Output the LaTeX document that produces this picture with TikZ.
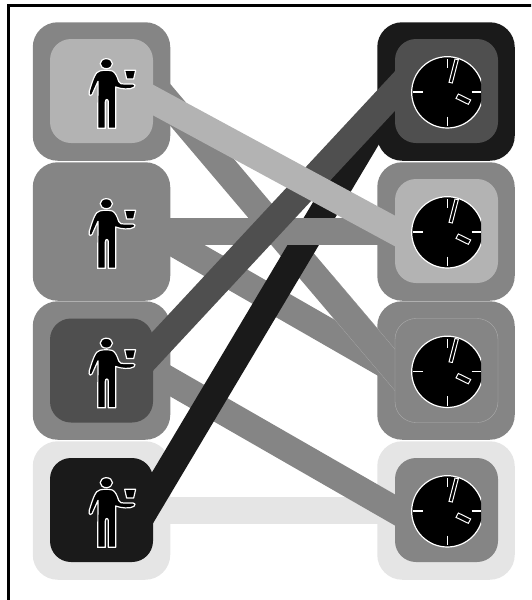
\documentclass[tikz,border=0pt]{standalone}
\definecolor{cGray}{HTML}{858585}
\definecolor{cLight}{HTML}{B3B3B3}
\definecolor{cDark}{HTML}{4F4F4F}
\definecolor{cBlack}{HTML}{1A1A1A}
\definecolor{cPale}{HTML}{E5E5E5}
\definecolor{cSeam}{HTML}{B0B0B0}
\tikzset{
  outerbox/.style={rectangle,rounded corners=25pt,minimum width=137.5pt,minimum height=138.5pt,inner sep=0pt,fill=#1},
  innerbox/.style={rectangle,rounded corners=21pt,minimum width=103pt,minimum height=104pt,inner sep=0pt,fill=#1},
  link/.style={line width=27pt,draw=#1,shorten <=-30pt,shorten >=-30pt},
  seamlink/.style={line width=.3pt,draw=cSeam,double=#1,double distance=26.4pt,shorten <=-30pt,shorten >=-30pt},
  glyph/.style={fill=black,draw=white,line width=1.2pt,line join=round},
  person/.pic={
    \begin{scope}[x=0.3333pt,y=-0.3333pt,shift={(-214.5,-243)}]
      \draw[glyph] (229,161) ellipse [x radius=18.5,y radius=15];
      \draw[glyph] (209,183) .. controls (196,186) and (190,205) .. (178,243)
        .. controls (176,250) and (177,256) .. (181,257)
        .. controls (186,257) and (188,250) .. (190,245)
        -- (204,214) -- (203,355) -- (226,355) -- (226,276)
        .. controls (226,266) and (235,266) .. (235,276)
        -- (235,355) -- (257,355) -- (257,231)
        .. controls (272,237) and (300,240) .. (312,232)
        .. controls (318,227) and (315,222) .. (309,222)
        -- (283,222) .. controls (275,222) and (270,222) .. (266,214)
        .. controls (262,200) and (255,186) .. (247,183)
        .. controls (240,180) and (216,180) .. (209,183) -- cycle;
      \draw[glyph] (284,181) -- (317,181) -- (311,207) -- (290,207) -- cycle;
    \end{scope}
  },
  clock/.pic={
    \begin{scope}[x=0.3333pt,y=-0.3333pt,shift={(-229.5,-243)}]
      \clip (100,120) rectangle (333,370);
      \draw[glyph] (232,247) circle [radius=107];
      \draw[white,line width=1.2pt] (232,147) -- (232,175) (128,246) -- (158,246)
        (305,246) -- (333,246) (233,320) -- (233,348);
      \draw[glyph,line width=1pt,line join=miter] (237,217) -- (247,219) -- (265,149) -- (255,147) -- cycle;
      \draw[glyph,line width=1pt,line join=miter] (258,265) -- (265,252) -- (302,270) -- (295,283) -- cycle;
    \end{scope}
  }
}
\begin{document}
\begin{tikzpicture}[x=1pt,y=-1pt]
  \useasboundingbox (0,0) rectangle (531,600);
  % frame: only its top and left sides fall inside the picture
  \begin{scope}
    \clip (0,0) rectangle (531,600);
    \draw[black,line width=3pt,line cap=butt] (8.5,620) -- (8.5,5.5) -- (540,5.5);
  \end{scope}

  % outer boxes
  \node[outerbox=cGray]  (lo1) at (101.5,91.5) {};
  \node[outerbox=cGray]  (lo2) at (101.5,231.5) {};
  \node[outerbox=cGray]  (lo3) at (101.5,370.5) {};
  \node[outerbox=cPale]  (lo4) at (101.5,510.5) {};
  \node[outerbox=cBlack] (ro1) at (446,91.5) {};
  \node[outerbox=cGray]  (ro2) at (446,231.5) {};
  \node[outerbox=cGray]  (ro3) at (446,370.5) {};
  \node[outerbox=cPale]  (ro4) at (446,510.5) {};

  % connector ends on the sides of the inner boxes
  \coordinate (a1) at (153,84.5);
  \coordinate (a2) at (153,100);
  \coordinate (b1) at (153,231);
  \coordinate (c1) at (153,351);
  \coordinate (c2) at (153,371);
  \coordinate (d1) at (153,497);
  \coordinate (d2) at (153,510);
  \coordinate (r1) at (395,91);
  \coordinate (r2) at (395,231);
  \coordinate (r3) at (395,370);
  \coordinate (r4) at (395,510);

  % connectors, bottom to top
  \draw[link=cPale] (d2) -- (r4);
  \draw[link=cGray] (b1) -- (r3);
  \draw[link=cGray] (a1) -- (r3);
  \begin{scope}
    \clip (332,250) rectangle (400,420);
    \draw[seamlink=cGray] (a1) -- (r3);
  \end{scope}
  \draw[link=cGray] (c2) -- (r4);
  \draw[link=cBlack] (d1) -- (r1);
  \draw[link=cGray] (b1) -- (r2);
  \draw[link=cDark] (c1) -- (r1);
  \draw[link=cLight] (a2) -- (r2);

  % inner boxes
  \node[innerbox=cLight] (li1) at (101.5,91) {};
  \node[innerbox=cGray]  (li2) at (101.5,231) {};
  \node[innerbox=cDark]  (li3) at (101.5,370.5) {};
  \node[innerbox=cBlack] (li4) at (101.5,510) {};
  \node[innerbox=cDark]  (ri1) at (446.5,91) {};
  \node[innerbox=cLight] (ri2) at (446.5,231) {};
  \node[innerbox=cGray,draw=cSeam,line width=.35pt] (ri3) at (446.5,370.5) {};
  \node[innerbox=cGray]  (ri4) at (446.5,510) {};

  % icons
  \pic at (li1) {person};
  \pic at (li2) {person};
  \pic at (li3) {person};
  \pic at (li4) {person};
  \pic at (ri1) {clock};
  \pic at (ri2) {clock};
  \pic at (ri3) {clock};
  \pic at (ri4) {clock};
\end{tikzpicture}
\end{document}
